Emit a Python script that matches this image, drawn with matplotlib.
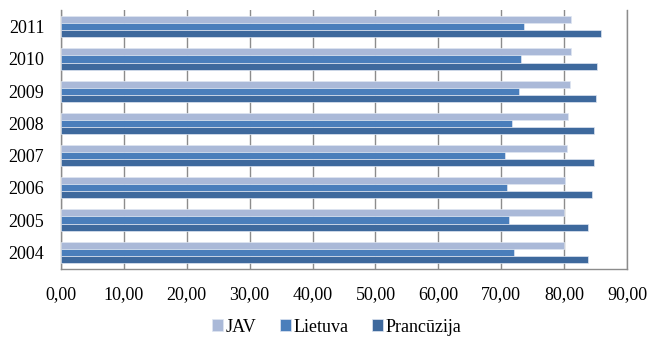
import numpy as np
import matplotlib.pyplot as plt

years = ["2004", "2005", "2006", "2007", "2008", "2009", "2010", "2011"]
jav = [80.0, 80.0, 80.2, 80.4, 80.6, 80.9, 81.05, 81.05]
lietuva = [72.1, 71.3, 70.95, 70.65, 71.65, 72.9, 73.2, 73.65]
prancuzija = [83.8, 83.8, 84.5, 84.75, 84.7, 85.0, 85.3, 85.8]

series_names = ["JAV", "Lietuva", "Prancūzija"]
colors = ["#aab9d8", "#4a7ebb", "#3e699d"]

plt.rcParams["font.family"] = ["Liberation Serif", "DejaVu Serif"]

fig = plt.figure(figsize=(6.5, 3.37), dpi=100)
ax = fig.add_axes([61 / 650, 1 - 269 / 337, (627 - 61) / 650, (269 - 10) / 337])

y = np.arange(len(years))
h = 0.22
for vals, off, c, name in zip([jav, lietuva, prancuzija], [h, 0, -h], colors, series_names):
    ax.barh(y + off, vals, height=h, color=c, edgecolor="#dfe6f2", linewidth=0.5,
            label=name, zorder=3)

ax.set_xlim(0, 90)
ax.set_ylim(-0.52, 7.52)
ax.set_xticks(np.arange(0, 91, 10))
ax.set_xticklabels([f"{v},00" for v in range(0, 91, 10)])
ax.set_yticks(y)
ax.set_yticklabels(years)
ax.tick_params(axis="both", length=0, labelsize=13)
ax.tick_params(axis="x", pad=12)
ax.tick_params(axis="y", pad=12)

ax.grid(axis="x", color="#8c8c8c", linewidth=1, zorder=0)
ax.spines["top"].set_visible(False)
for s in ["left", "bottom", "right"]:
    ax.spines[s].set_color("#8c8c8c")
    ax.spines[s].set_linewidth(1)

handles, labels = ax.get_legend_handles_labels()
fig.legend(handles, labels, loc="center", bbox_to_anchor=(0.518, 1 - 327 / 337),
           ncol=3, frameon=False, fontsize=13, handlelength=0.6, handleheight=0.6,
           handletextpad=0.15, columnspacing=1.3, borderaxespad=0)

fig.savefig("out.png", dpi=100)
